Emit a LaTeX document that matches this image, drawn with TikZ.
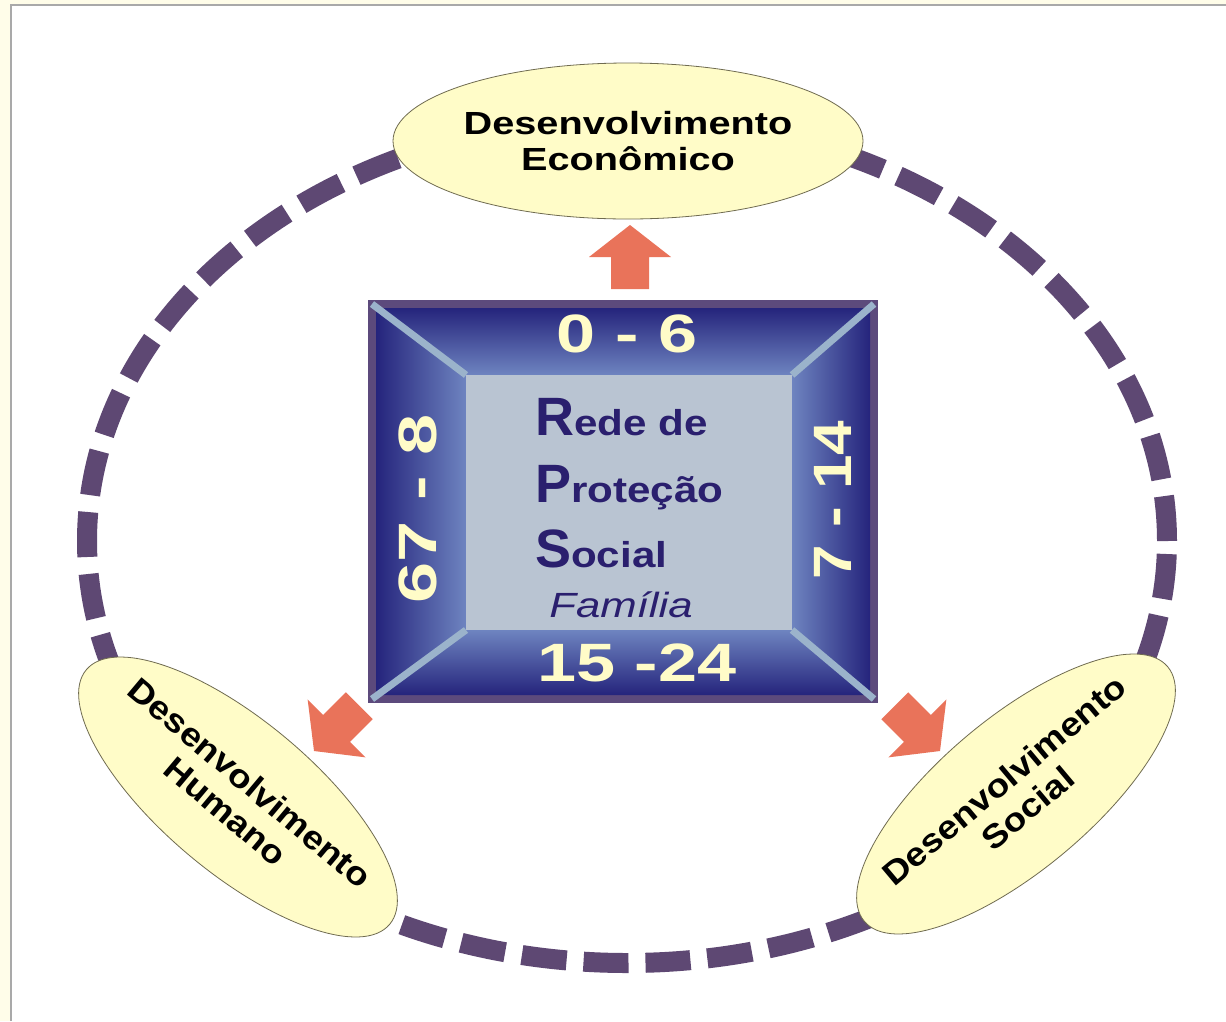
\documentclass[tikz,border=0pt]{standalone}
\usepackage{fontspec}
\setmainfont{Liberation Sans}
\usetikzlibrary{shapes.geometric}
\definecolor{cream}{HTML}{FFFDE9}
\definecolor{frameg}{HTML}{A9A9A9}
\definecolor{dashp}{HTML}{5E4873}
\definecolor{elfill}{HTML}{FFFCC8}
\definecolor{elline}{HTML}{6F6B50}
\definecolor{arrowc}{HTML}{E9735A}
\definecolor{boxborder}{HTML}{5C4A7C}
\definecolor{navyd}{HTML}{25247C}
\definecolor{bluel}{HTML}{6E84C0}
\definecolor{innerf}{HTML}{B9C4D2}
\definecolor{bevel}{HTML}{9BB3CB}
\definecolor{numc}{HTML}{FFFCC8}
\definecolor{indigo}{HTML}{2A1F6E}
\newcommand\wide[2]{\scalebox{#1}[1]{#2}}
\tikzset{
  devel/.style={ellipse, fill=elfill, draw=elline, line width=0.8pt, inner sep=0pt},
  develtext/.style={inner sep=0pt, align=center, text=black,
    font=\fontsize{32}{36}\selectfont\bfseries},
  num/.style={inner sep=0pt, text=numc, font=\fontsize{54}{54}\selectfont\bfseries},
  rps/.style={anchor=base west, inner sep=0pt, text=indigo, font=\bfseries},
  blockarrow/.pic={\fill[arrowc] (0,0) -- (41,32) -- (19,32) -- (19,64) -- (-19,64) -- (-19,32) -- (-41,32) -- cycle;}
}
\begin{document}
\begin{tikzpicture}[x=1pt, y=-1pt]
\useasboundingbox (0,0) rectangle (1226,1021);
\fill[cream] (0,0) rectangle (1226,1021);
\fill[white] (11,5) rectangle (1226,1021);
\draw[frameg, line width=2pt] (11,1021) -- (11,5) -- (1226,5);

% dashed ring
\draw[dashp, line width=20pt, dash pattern=on 45pt off 17pt] (627,541) ellipse [x radius=540pt, y radius=422pt];

% development ellipses
\node[devel, minimum width=470pt, minimum height=156pt] (eco) at (628,141) {};
\node[develtext] (ecot) at (eco.center) {\wide{1.24}{Desenvolvimento}\\\wide{1.24}{Econômico}};
\node[devel, minimum width=396pt, minimum height=152pt, rotate=-40] (hum) at (238,797) {};
\node[develtext, font=\fontsize{33}{37}\selectfont\bfseries, rotate=-40] (humt) at (hum.center) {\wide{1.12}{Desenvolvimento}\\\wide{1.12}{Humano}};
\node[devel, minimum width=396pt, minimum height=152pt, rotate=40] (soc) at (1016,794) {};
\node[develtext, font=\fontsize{33}{37}\selectfont\bfseries, rotate=40] (soct) at (soc.center) {\wide{1.12}{Desenvolvimento}\\\wide{1.12}{Social}};

% central box
\coordinate (A) at (376,308);
\coordinate (B) at (870,308);
\coordinate (C) at (870,695);
\coordinate (D) at (376,695);
\coordinate (a) at (466,375);
\coordinate (b) at (792,375);
\coordinate (c) at (792,630);
\coordinate (d) at (466,630);
\fill[boxborder] (368,300) rectangle (878,703);
\shade[top color=navyd, bottom color=bluel] (A) -- (B) -- (b) -- (a) -- cycle;
\shade[left color=navyd, right color=bluel] (A) -- (a) -- (d) -- (D) -- cycle;
\shade[left color=bluel, right color=navyd] (B) -- (C) -- (c) -- (b) -- cycle;
\shade[top color=bluel, bottom color=navyd] (D) -- (d) -- (c) -- (C) -- cycle;
\fill[innerf] (a) rectangle (c);
\draw[bevel, line width=7pt] (372,304) -- (a);
\draw[bevel, line width=7pt] (874,304) -- (b);
\draw[bevel, line width=7pt] (874,699) -- (c);
\draw[bevel, line width=7pt] (372,699) -- (d);

% age labels
\node[num] (n06) at (627,334) {\wide{1.3}{0 - 6}};
\node[num] (n1524) at (637,663) {\wide{1.3}{15 -24}};
\node[num, rotate=90] (n678) at (418,509) {\wide{1.37}{67 - 8}};
\node[num, rotate=90] (n714) at (833,500) {\wide{1.15}{7 - 14}};

% RPS text
\node[rps] (rl) at (535,435) {\fontsize{54}{54}\selectfont R\fontsize{36}{36}\selectfont\wide{1.17}{ede de}};
\node[rps] (pl) at (535,502) {\fontsize{54}{54}\selectfont P\fontsize{36}{36}\selectfont\wide{1.17}{roteção}};
\node[rps] (sl) at (535,567) {\fontsize{54}{54}\selectfont S\fontsize{36}{36}\selectfont\wide{1.17}{ocial}};
\node[anchor=base, inner sep=0pt, text=indigo, font=\fontsize{35}{35}\selectfont\itshape] (fam) at (621,617) {\wide{1.25}{Família}};

% arrows
\pic at (630,225) {blockarrow};
\pic[rotate=135] at (314,751) {blockarrow};
\pic[rotate=-135] at (940,751) {blockarrow};
\end{tikzpicture}
\end{document}
